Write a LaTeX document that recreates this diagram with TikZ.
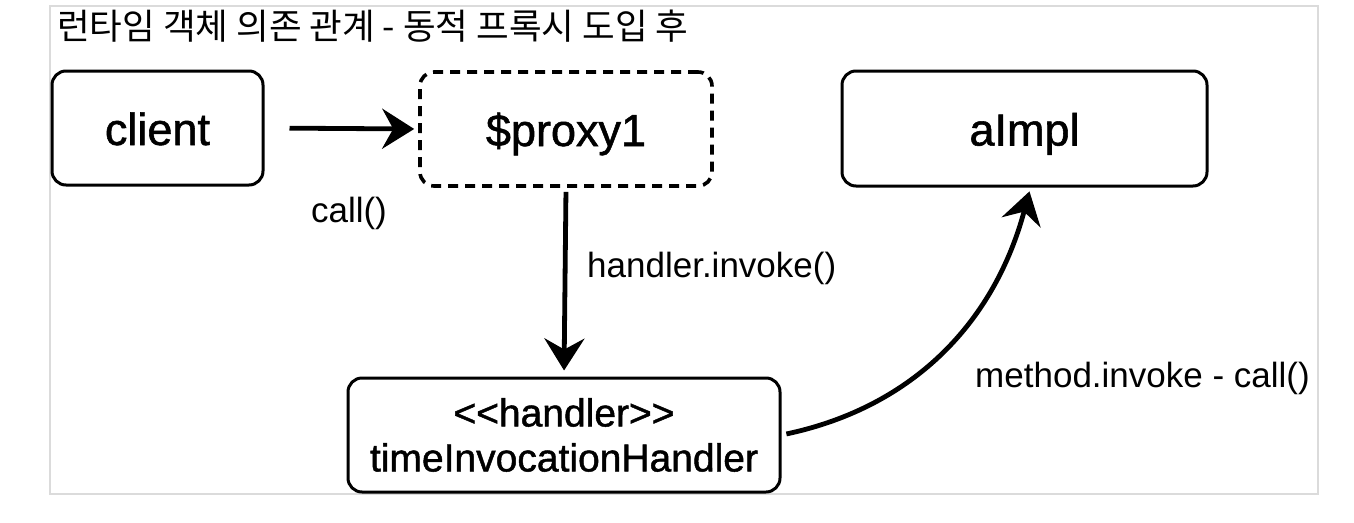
\documentclass[tikz,border=0pt]{standalone}
\usepackage{fontspec}
\setmainfont{Liberation Sans}
\newfontfamily\medfont[FakeBold=1.2]{Liberation Sans}
\newfontfamily\krfont{Noto Sans CJK KR}
\usetikzlibrary{arrows.meta}
\tikzset{
  box/.style={draw=black, line width=3pt, rounded corners=14pt, inner sep=0pt, align=center},
  dashbox/.style={box, line width=3.6pt, dash pattern=on 10pt off 7pt},
  conn/.style={line width=4.8pt, -{Stealth[length=32pt,width=40pt,inset=11pt]}},
  lbl/.style={inner sep=0pt, font=\fontsize{35}{40}\selectfont},
  big/.style={font=\medfont\fontsize{45}{50}\selectfont, text height=34pt, text depth=0pt},
  mid/.style={font=\medfont\fontsize{39}{45}\selectfont},
}
\begin{document}
\begin{tikzpicture}[x=1pt,y=1pt]
\useasboundingbox (0,0) rectangle (1354,-522);
\draw[draw=black!14, line width=2.5pt] (50,-6) rectangle (1318,-494);
\node[anchor=base west, inner sep=0pt, font=\krfont\fontsize{35.5}{40}\selectfont] (title) at (57,-39) {런타임 객체 의존 관계 - 동적 프록시 도입 후};
\node[box, big, minimum width=211pt, minimum height=114pt] (client) at (157.5,-128) {client};
\node[dashbox, big, minimum width=292pt, minimum height=114pt] (proxy) at (566,-129) {\$proxy1};
\node[box, big, minimum width=365pt, minimum height=115pt] (aimpl) at (1024.5,-128.5) {aImpl};
\node[box, mid, minimum width=432pt, minimum height=114pt] (handler) at (564,-435) {<{}<handler>{}>\\timeInvocationHandler};
\draw[conn, shorten <=25pt, shorten >=4pt] (client.east) -- (proxy.west);
\draw[conn, shorten <=4pt, shorten >=6pt] (proxy.south) -- (handler.north);
\draw[conn, shorten <=5pt, shorten >=4pt] (handler.east) to[out=12, in=-105] ([xshift=6pt]aimpl.south);
\node[lbl, anchor=base] (calllbl) at (349,-222) {call()};
\node[lbl, anchor=base west] (hinv) at (587,-277) {handler.invoke()};
\node[lbl, anchor=base east] (minv) at (1310,-387) {method.invoke - call()};
\end{tikzpicture}
\end{document}
